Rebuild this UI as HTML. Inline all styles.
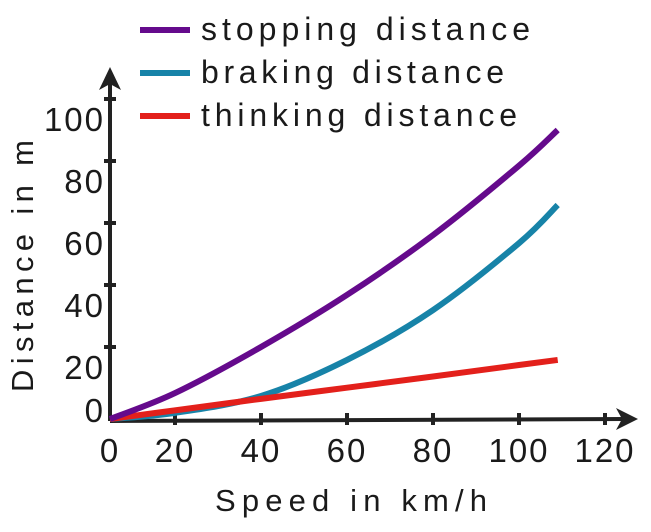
<!DOCTYPE html>
<html><head><meta charset="utf-8"><style>
html,body{margin:0;padding:0;background:#fff;}
svg{display:block;font-family:"Liberation Sans",sans-serif;}
</style></head><body>
<svg id="chart" width="651" height="532" viewBox="0 0 651 532" xmlns="http://www.w3.org/2000/svg">
<g id="legend">
 <g><line x1="140" y1="30" x2="190" y2="30" stroke="#650a8c" stroke-width="6"/><text x="201" y="40" font-size="32" textLength="329" lengthAdjust="spacing" fill="#1a1a1a">stopping distance</text></g>
 <g><line x1="140" y1="73" x2="190" y2="73" stroke="#1783a8" stroke-width="6"/><text x="201" y="83" font-size="32" textLength="303" lengthAdjust="spacing" fill="#1a1a1a">braking distance</text></g>
 <g><line x1="140" y1="116" x2="190" y2="116" stroke="#e3201b" stroke-width="6"/><text x="201" y="126" font-size="32" textLength="316" lengthAdjust="spacing" fill="#1a1a1a">thinking distance</text></g>
</g>
<g id="axes"></g>
<g id="series"></g>
<text x="215" y="511" font-size="31" textLength="272" lengthAdjust="spacing" fill="#1a1a1a">Speed in km/h</text>
<text transform="translate(33,392) rotate(-90)" font-size="31" textLength="252" lengthAdjust="spacing" fill="#1a1a1a">Distance in m</text>
</svg>
<script>
const xTicks = [0, 20, 40, 60, 80, 100, 120];
const yTicks = [0, 20, 40, 60, 80, 100];
const stoppingSpeed = [0, 20, 40, 60, 80, 100, 109];
const stoppingDist = [0, 7.2, 20, 36.8, 56.1, 78.5, 90];
const brakingSpeed = [0, 20, 40, 60, 80, 100, 109];
const brakingDist = [0, 1.7, 6.4, 16.4, 31.9, 53.5, 65.8];
const thinkingSpeed = [0, 20, 40, 60, 80, 100, 109];
const thinkingDist = [0, 2.4, 5.6, 8.7, 11.8, 15.0, 16.4];

const NS = "http://www.w3.org/2000/svg";
function xs(v){ return v <= 20 ? 110 + v * 3.25 : 175 + (v - 20) * 4.3; }
function ys(v){ return v <= 20 ? 419 - v * 3.6 : 347 - (v - 20) * 3.1; }
function mk(tag, attrs, parent){ const e = document.createElementNS(NS, tag); for (const k in attrs) e.setAttribute(k, attrs[k]); parent.appendChild(e); return e; }

const axes = document.getElementById('axes');
let el;
el = mk('line', {x1:110, y1:421, x2:626, y2:419, stroke:'#222', 'stroke-width':4}, axes);


el = mk('polygon', {points:'638,419 616,408 622,419 616,430', fill:'#222'}, axes);


el = mk('line', {x1:110, y1:421, x2:110, y2:80, stroke:'#222', 'stroke-width':4}, axes);


el = mk('polygon', {points:'110,67 99,90 110,84 121,90', fill:'#222'}, axes);



xTicks.forEach(t => {
  if (t > 0) {
    const tk = mk('line', {x1:xs(t), y1:413, x2:xs(t), y2:425, stroke:'#222', 'stroke-width':4}, axes);
    
    
  }
  const lb = mk('text', {x:xs(t), y:462, 'font-size':33, 'letter-spacing':2, 'text-anchor':'middle', fill:'#1a1a1a'}, axes);
  lb.textContent = t;
  
  
});
yTicks.forEach(t => {
  if (t > 0) {
    const tk = mk('line', {x1:104, y1:ys(t), x2:116, y2:ys(t), stroke:'#222', 'stroke-width':4}, axes);
    
    
  }
  const cy = t === 0 ? 410 : ys(t) + 20;
  const lb = mk('text', {x:105, y:cy + 12, 'font-size':33, 'letter-spacing':2, 'text-anchor':'end', fill:'#1a1a1a'}, axes);
  lb.textContent = t;
  
  
});

function smoothPath(xv, yv){
  const p = xv.map((v, i) => [xs(v), ys(yv[i])]);
  let d = 'M' + p[0][0] + ',' + p[0][1];
  for (let i = 0; i < p.length - 1; i++) {
    const p0 = p[Math.max(0, i - 1)], p1 = p[i], p2 = p[i + 1], p3 = p[Math.min(p.length - 1, i + 2)];
    const c1x = p1[0] + (p2[0] - p0[0]) / 6, c1y = p1[1] + (p2[1] - p0[1]) / 6;
    const c2x = p2[0] - (p3[0] - p1[0]) / 6, c2y = p2[1] - (p3[1] - p1[1]) / 6;
    d += ' C' + c1x + ',' + c1y + ' ' + c2x + ',' + c2y + ' ' + p2[0] + ',' + p2[1];
  }
  return d;
}
const series = document.getElementById('series');
el = mk('path', {d:smoothPath(brakingSpeed, brakingDist), fill:'none', stroke:'#1783a8', 'stroke-width':6}, series);


el = mk('path', {d:smoothPath(thinkingSpeed, thinkingDist), fill:'none', stroke:'#e3201b', 'stroke-width':6}, series);


el = mk('path', {d:smoothPath(stoppingSpeed, stoppingDist), fill:'none', stroke:'#650a8c', 'stroke-width':6}, series);


</script>
</body></html>
